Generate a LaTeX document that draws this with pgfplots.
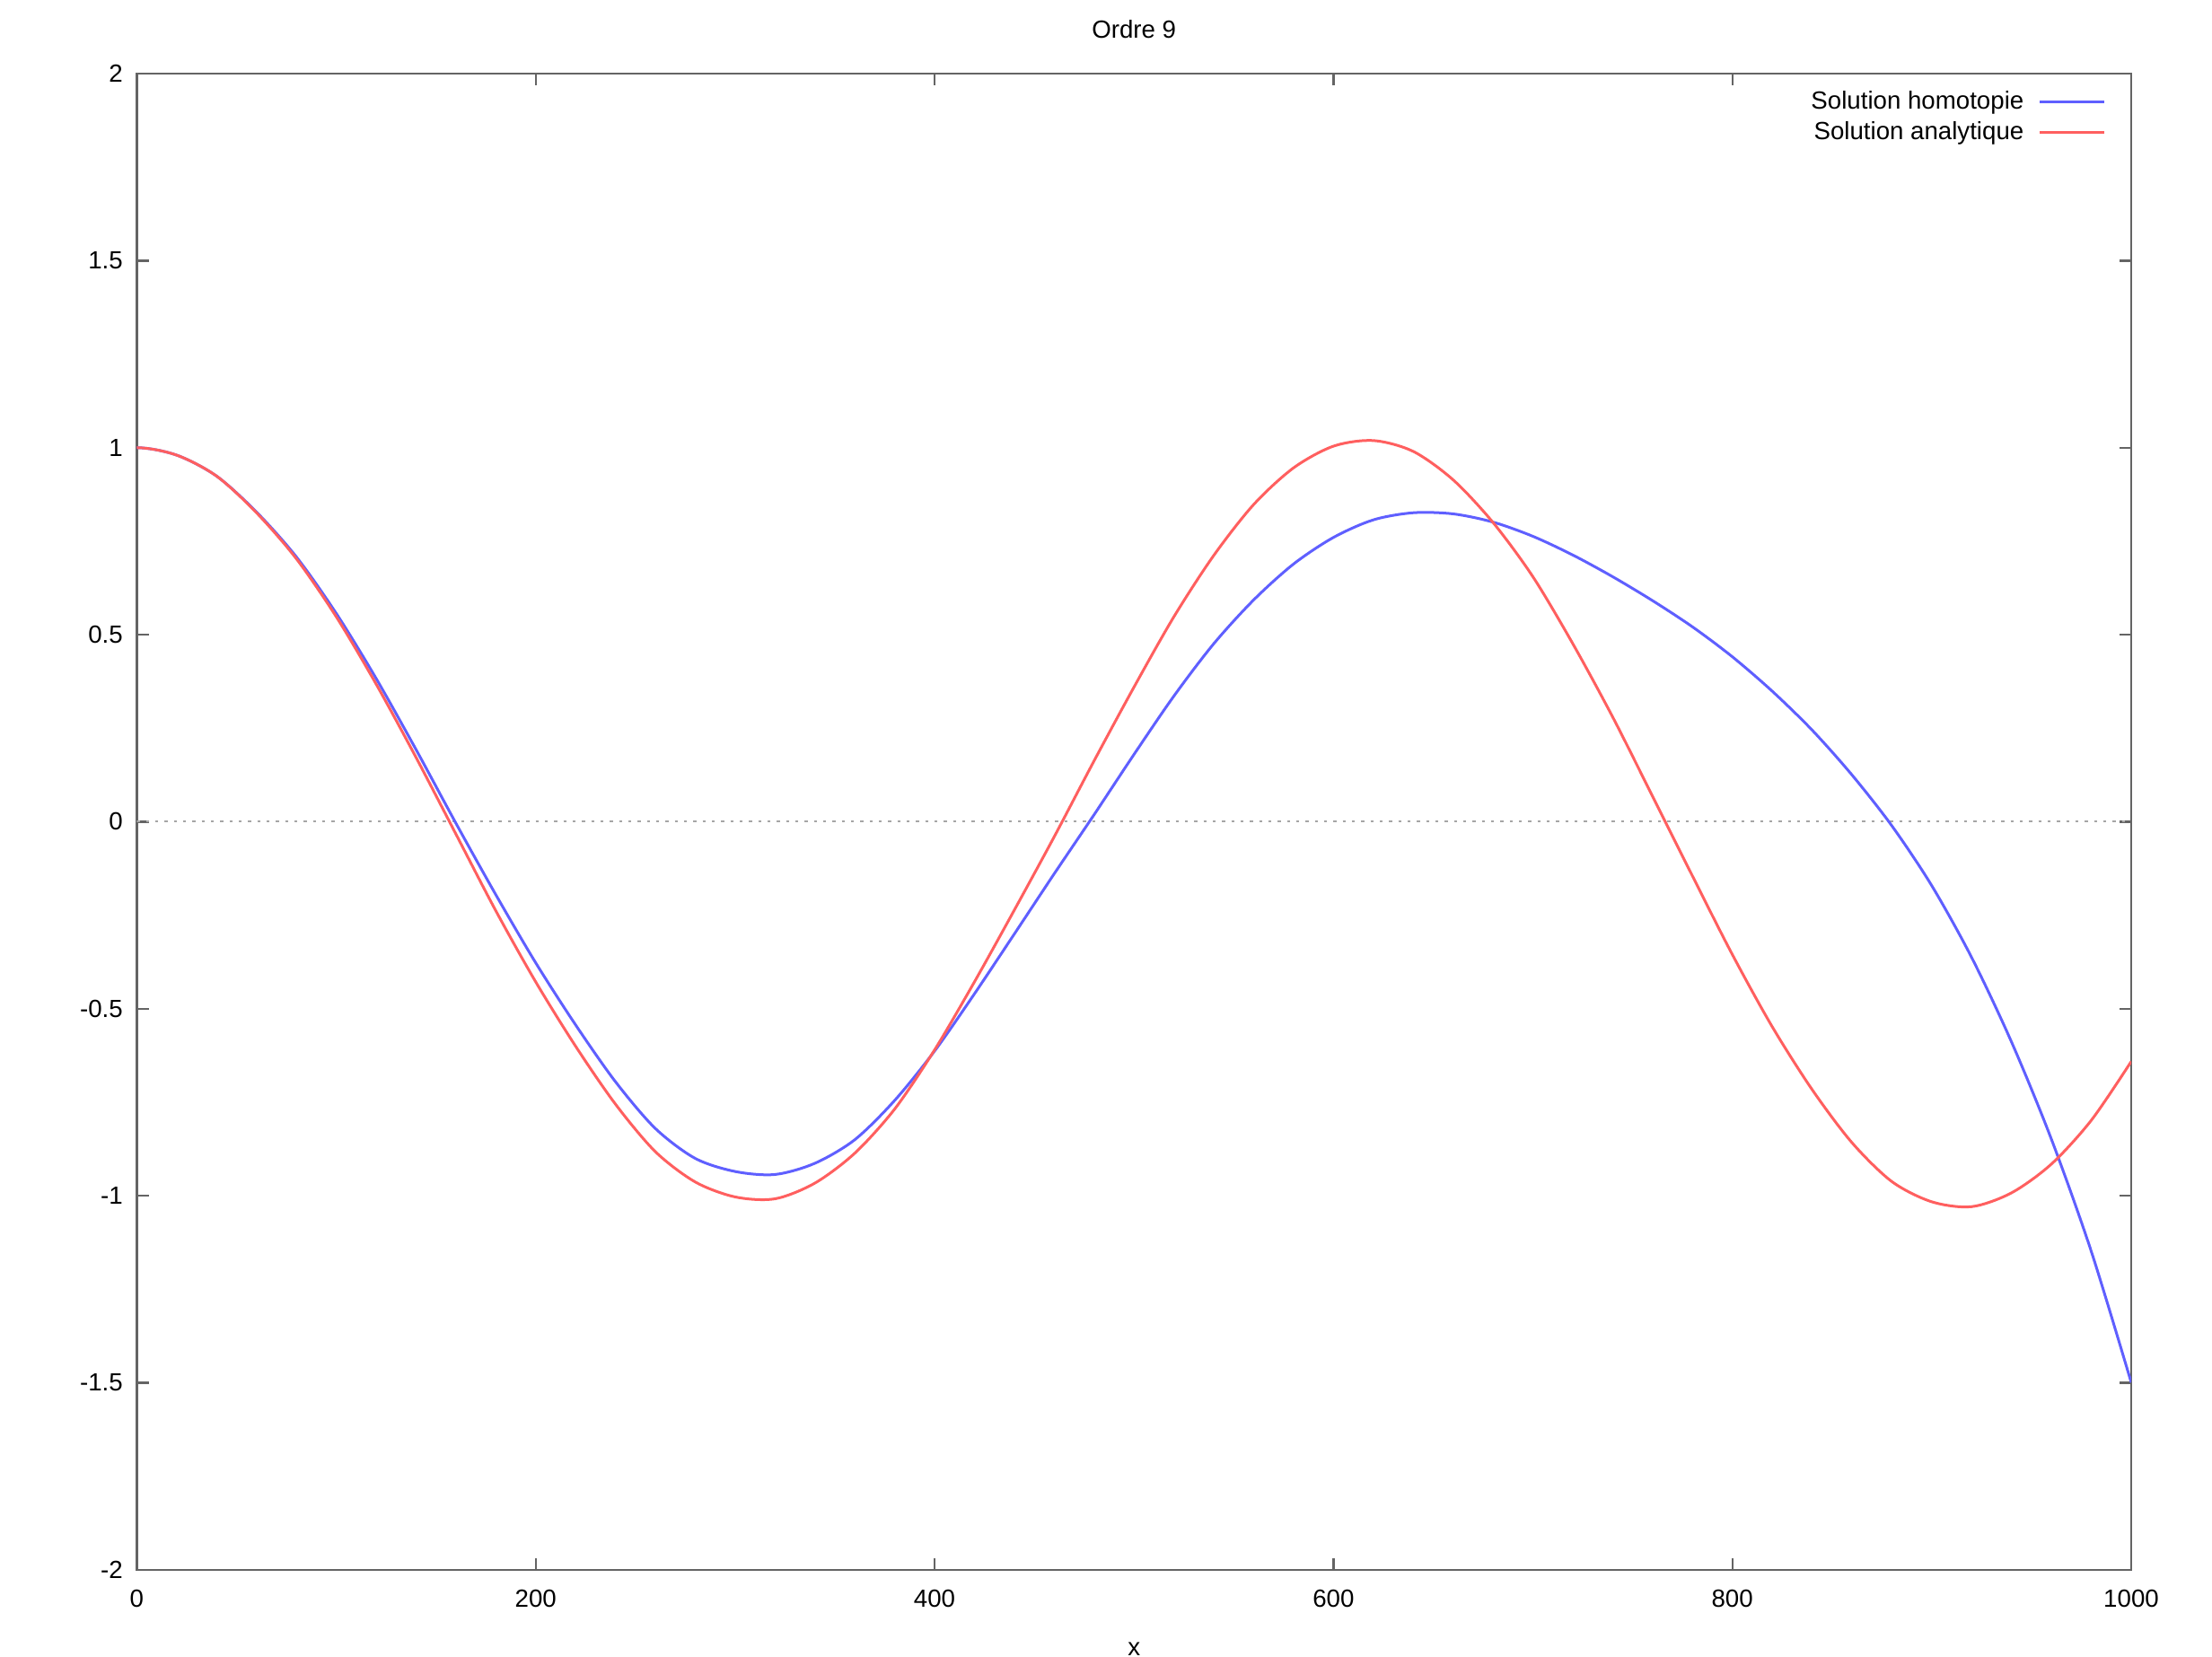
\documentclass[border=0pt]{standalone}
\usepackage{fontspec}
\setmainfont{Liberation Sans}
\usepackage{pgfplots}
\pgfplotsset{compat=1.18}
\usetikzlibrary{calc}

\definecolor{homblue}{RGB}{95,95,255}
\definecolor{anared}{RGB}{255,95,95}
\definecolor{axgray}{RGB}{100,100,100}
\definecolor{zerogray}{RGB}{165,165,165}

\begin{document}
\fontsize{8.3}{10}\selectfont
\begin{tikzpicture}
\begin{axis}[
    name=ax,
    scale only axis,
    width=666.5pt, height=500.1pt,
    xmin=0, xmax=1000,
    ymin=-2, ymax=2,
    clip=true,
    xtick={0,200,400,600,800,1000},
    xticklabels={0,200,400,600,800,1000},
    ytick={-2,-1.5,-1,-0.5,0,0.5,1,1.5,2},
    yticklabels={-2,-1.5,-1,-0.5,0,0.5,1,1.5,2},
    axis line style={draw=axgray, line width=0.8pt},
    major tick length=4pt,
    tick style={draw=axgray, line width=0.7pt},
    tick align=inside,
    minor tick num=0,
    xticklabel style={anchor=north, inner sep=0pt, yshift=-6.5pt},
    yticklabel style={anchor=east, inner sep=0pt, xshift=-4.5pt},
    title={Ordre 9},
    title style={at={(0.5,1)}, anchor=center, inner sep=0pt, yshift=8.7pt},
    xlabel={x},
    xlabel style={at={(0.5,0)}, anchor=center, inner sep=0pt, yshift=-26.4pt},
    legend plot pos=right,
    legend cell align=right,
    legend style={draw=none, fill=none, at={(1,1)}, anchor=north east,
        inner sep=0pt, xshift=-8.4pt, yshift=-3.5pt, row sep=-1pt,
        /tikz/every odd column/.append style={column sep=2.8pt}},
    legend image code/.code={\draw[#1] (0pt,0pt) -- (21.6pt,0pt);},
]
% zero line
\addplot[forget plot, zerogray, line width=0.6pt, dash pattern=on 1pt off 2.1pt]
    coordinates {(0,0) (1000,0)};

% Solution homotopie (first point mirrors x=20 so the curve starts flat)
\addplot[homblue, line width=0.9pt, smooth] coordinates {
    (-20,0.980) (0,1.000) (20,0.980) (40,0.924) (60,0.828) (80,0.708)
    (100,0.557) (120,0.383) (140,0.193) (160,-0.004) (180,-0.195)
    (200,-0.377) (220,-0.543) (240,-0.695) (260,-0.820) (280,-0.900)
    (300,-0.935) (320,-0.943) (340,-0.913) (360,-0.850) (380,-0.745)
    (400,-0.613) (420,-0.460) (440,-0.300) (460,-0.139) (480,0.019)
    (500,0.180) (520,0.336) (540,0.476) (560,0.593) (580,0.689)
    (600,0.760) (620,0.807) (640,0.826) (660,0.823) (680,0.801)
    (700,0.763) (720,0.713) (740,0.655) (760,0.591) (780,0.521)
    (800,0.441) (820,0.349) (840,0.245) (860,0.125) (880,-0.011)
    (900,-0.171) (920,-0.363) (940,-0.589) (960,-0.849) (980,-1.149)
    (1000,-1.499)
};
\addlegendentry{Solution homotopie}

% Solution analytique
\addplot[anared, line width=0.9pt, smooth] coordinates {
    (-20,0.980) (0,1.000) (20,0.980) (40,0.924) (60,0.826) (80,0.703)
    (100,0.548) (120,0.368) (140,0.172) (160,-0.033) (180,-0.238)
    (200,-0.428) (220,-0.600) (240,-0.755) (260,-0.882) (280,-0.963)
    (300,-1.003) (320,-1.008) (340,-0.966) (360,-0.886) (380,-0.768)
    (400,-0.610) (420,-0.428) (440,-0.236) (460,-0.040) (480,0.163)
    (500,0.360) (520,0.548) (540,0.712) (560,0.848) (580,0.946)
    (600,1.004) (620,1.019) (640,0.990) (660,0.914) (680,0.800)
    (700,0.655) (720,0.476) (740,0.280) (760,0.068) (780,-0.145)
    (800,-0.355) (820,-0.548) (840,-0.716) (860,-0.858) (880,-0.962)
    (900,-1.016) (920,-1.029) (940,-0.992) (960,-0.915) (980,-0.798)
    (1000,-0.641)
};
\addlegendentry{Solution analytique}
\end{axis}
\pgfresetboundingbox
\path[use as bounding box] ($(ax.south west)+(-45.72pt,-29.1pt)$)
    rectangle ($(ax.north east)+(27pt,24.6pt)$);
\end{tikzpicture}
\end{document}
